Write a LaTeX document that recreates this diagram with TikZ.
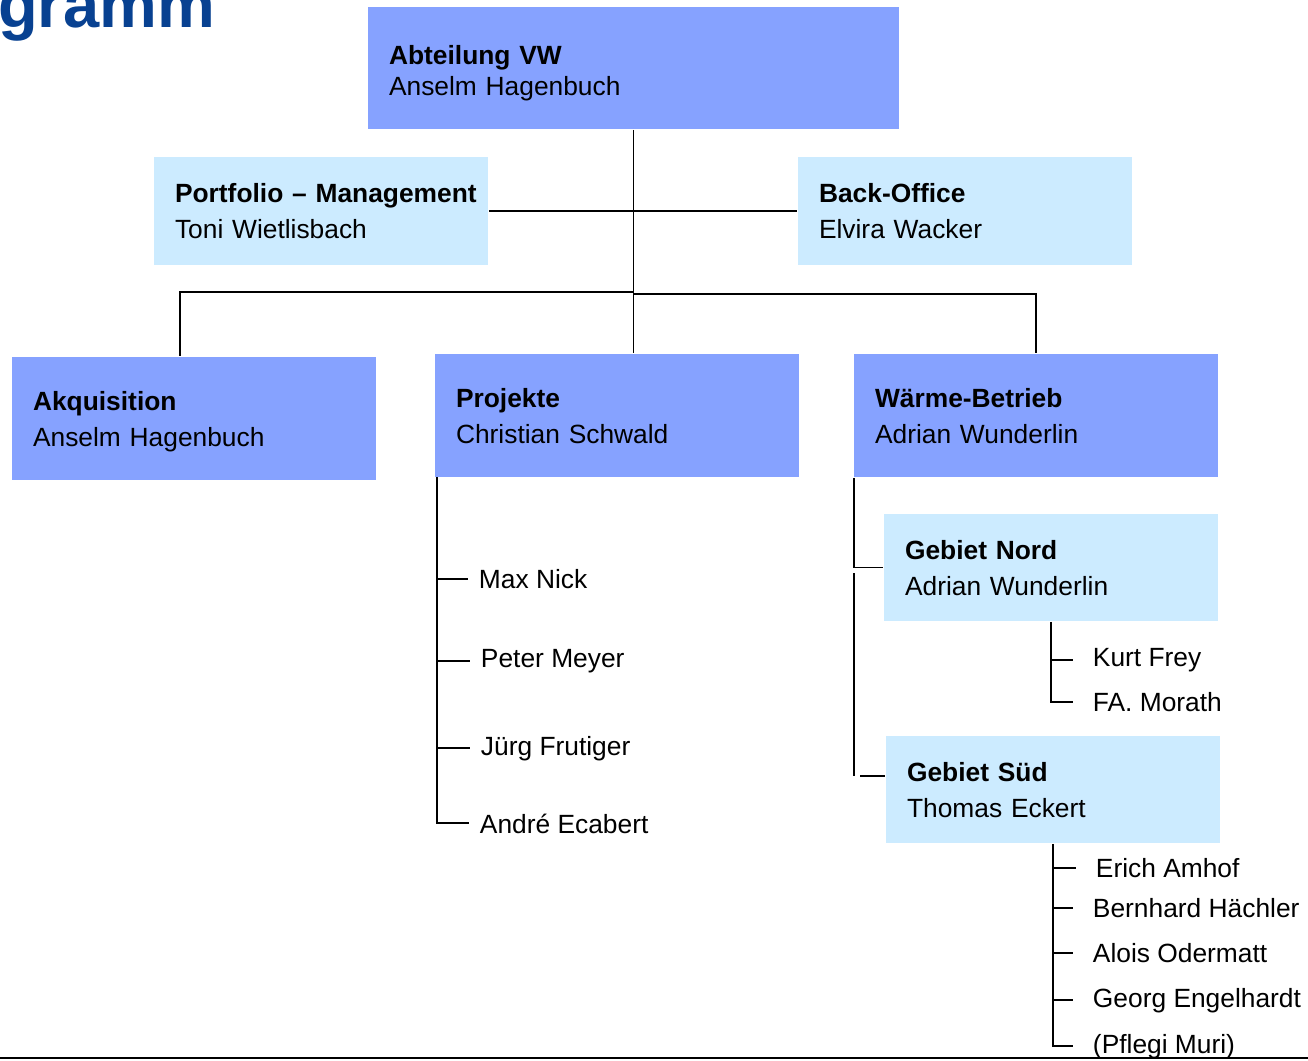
\documentclass[tikz,border=0pt]{standalone}
\usepackage{fontspec}
\setmainfont{Liberation Sans}
\usepackage{tikz}

\definecolor{boxdark}{RGB}{134,162,255}
\definecolor{boxlight}{RGB}{204,235,255}
\definecolor{titleblue}{RGB}{8,65,145}

\newcommand{\firstline}[2]{\rule{0pt}{#1}\mbox{\textbf{#2}}}

\tikzset{
  darkbox/.style={fill=boxdark, inner xsep=0.42cm, align=left,
    font=\fontsize{15}{20.5}\selectfont},
  lightbox/.style={fill=boxlight, inner xsep=0.42cm, align=left,
    font=\fontsize{15}{20.5}\selectfont},
  person/.style={anchor=base west, inner xsep=0.2cm, font=\fontsize{15}{18}\selectfont},
  farperson/.style={person, inner xsep=0.38cm}
}

\begin{document}
\begin{tikzpicture}[x=0.02cm, y=-0.02cm, line width=1.1pt]
  \useasboundingbox (0,0) rectangle (1308,1061);
  \begin{scope}
    \clip (0,0) rectangle (1308,1061);
    \node[anchor=base east, inner sep=0pt, text=titleblue,
      font=\fontsize{37}{37}\selectfont\bfseries] (title) at (216,28) {gramm};
  \end{scope}

  \node[darkbox, minimum width=10.62cm, minimum height=2.44cm, text width=9.78cm,
    font=\fontsize{15}{17.5}\selectfont] (vw) at (633.5,68)
    {\firstline{16.5pt}{Abteilung VW}\\Anselm Hagenbuch};
  \node[lightbox, minimum width=6.68cm, minimum height=2.16cm, text width=5.84cm] (portfolio) at (321,211)
    {\firstline{11pt}{Portfolio – Management}\\Toni Wietlisbach};
  \node[lightbox, minimum width=6.68cm, minimum height=2.16cm, text width=5.84cm] (back) at (965,211)
    {\firstline{11pt}{Back-Office}\\Elvira Wacker};

  \node[darkbox, minimum width=7.28cm, minimum height=2.46cm, text width=6.44cm] (akq) at (194,418.5)
    {\firstline{15pt}{Akquisition}\\Anselm Hagenbuch};
  \node[darkbox, minimum width=7.28cm, minimum height=2.46cm, text width=6.44cm] (proj) at (617,415.5)
    {\firstline{12pt}{Projekte}\\Christian Schwald};
  \node[darkbox, minimum width=7.28cm, minimum height=2.46cm, text width=6.44cm] (waerme) at (1036,415.5)
    {\firstline{12pt}{Wärme-Betrieb}\\Adrian Wunderlin};

  \node[lightbox, minimum width=6.68cm, minimum height=2.14cm, text width=5.84cm] (nord) at (1051,567.5)
    {\firstline{11pt}{Gebiet Nord}\\Adrian Wunderlin};
  \node[lightbox, minimum width=6.68cm, minimum height=2.14cm, text width=5.84cm] (sued) at (1053,789.5)
    {\firstline{11pt}{Gebiet Süd}\\Thomas Eckert};

  \node[person] (nick) at (468,588) {Max Nick};
  \node[person] (meyer) at (470,667) {Peter Meyer};
  \node[person] (frutiger) at (470,755) {Jürg Frutiger};
  \node[person] (ecabert) at (469,833) {André Ecabert};

  \node[farperson] (frey) at (1073,666) {Kurt Frey};
  \node[farperson] (morath) at (1073,711) {FA. Morath};

  \node[farperson] (amhof) at (1076,877) {Erich Amhof};
  \node[farperson] (haechler) at (1073,917) {Bernhard Hächler};
  \node[farperson] (odermatt) at (1073,962) {Alois Odermatt};
  \node[farperson] (engelhardt) at (1073,1007) {Georg Engelhardt};
  \node[farperson] (muri) at (1073,1053) {(Pflegi Muri)};

  \coordinate (ak) at (180,292);
  \coordinate (wb) at (634,294);
  \coordinate (pt) at (437,477);
  \coordinate (sa) at (854,573);
  \coordinate (sb) at (854,776);

  \draw (vw.south) -- (vw.south |- proj.north);
  \draw (portfolio.east) -- (back.west);
  \draw[line width=1.7pt] (vw.south |- ak) -- (ak) -- (ak |- akq.north);
  \draw (wb) -| (waerme.north);

  \draw (pt) |- (ecabert.west);
  \foreach \n in {nick,meyer,frutiger}
    \draw (pt |- \n.west) -- (\n.west);

  \draw ([xshift=0.02cm]waerme.south west) |- (nord.west);
  \draw (sa) -- (sb);
  \draw ([xshift=0.12cm]sb) -- (sb -| sued.west);

  \draw (nord.south) |- (morath.west);
  \draw (nord.south |- frey.west) -- (frey.west);

  \draw (sued.south) |- (muri.west);
  \foreach \n in {amhof,haechler,odermatt,engelhardt}
    \draw (sued.south |- \n.west) -- (\n.west);

  \draw (0,1058) -- (1308,1058);
\end{tikzpicture}
\end{document}
